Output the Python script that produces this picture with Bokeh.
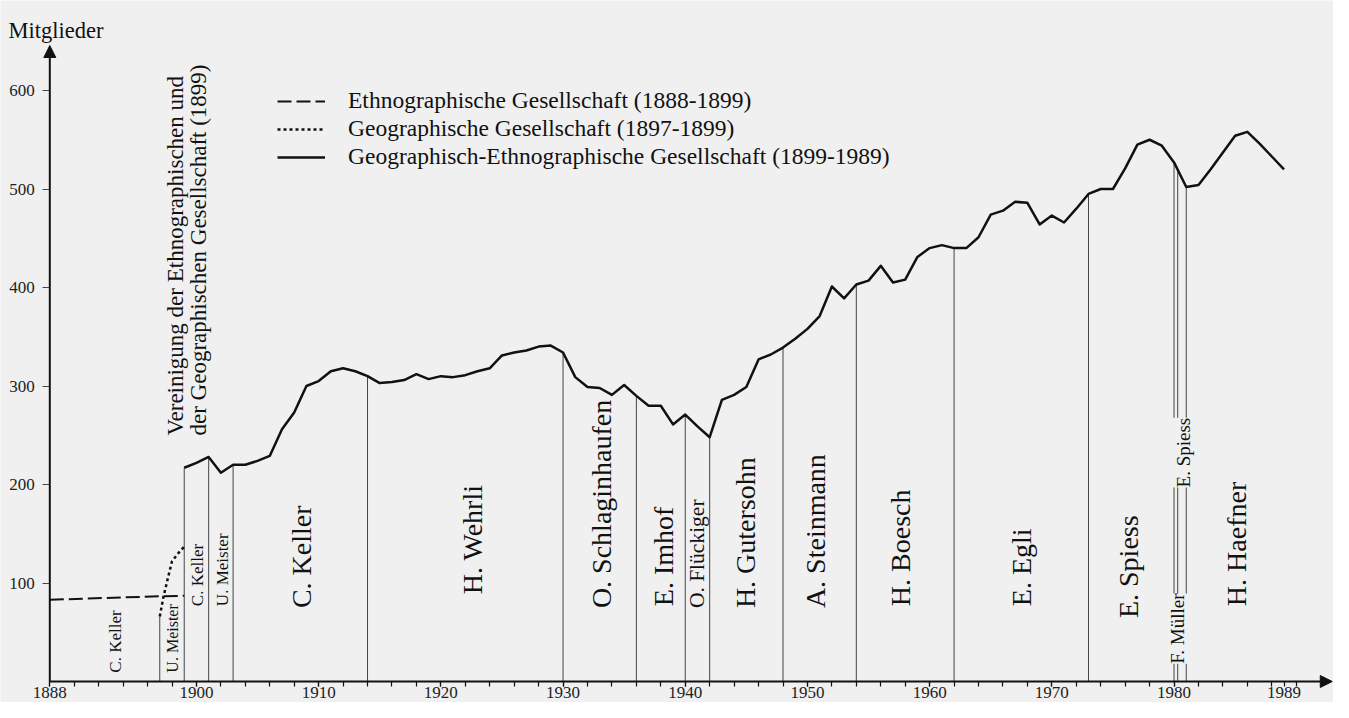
import numpy as np
from bokeh.plotting import figure
from bokeh.models import (Range1d, FixedTicker, Legend, LegendItem, Label,
                          Arrow, NormalHead)
from bokeh.embed import file_html
from bokeh.resources import INLINE

# ---------------- data ----------------
main_years = list(range(1899, 1990))
main_members = [
    217, 222, 228, 212, 220, 220, 224, 229, 256, 273,   # 1899-1908
    300, 305, 315, 318, 315, 310, 303, 304, 306, 312,   # 1909-1918
    307, 310, 309, 311, 315, 318, 331, 334, 336, 340,   # 1919-1928
    341, 334, 309, 299, 298, 291, 301, 290, 280, 280,   # 1929-1938
    261, 271, 259, 248, 286, 291, 299, 327, 332, 339,   # 1939-1948
    348, 358, 371, 401, 389, 403, 407, 422, 405, 408,   # 1949-1958
    431, 440, 443, 440, 440, 451, 474, 478, 487, 486,   # 1959-1968
    464, 473, 466, 480, 495, 500, 500, 521, 545, 550,   # 1969-1978
    544, 527, 502, 504, 520, 537, 554, 558, 546, 533,   # 1979-1988
    520,                                                # 1989
]
ethno_years = [1888, 1897, 1899]
ethno_members = [83, 86.5, 87]
geo_years = [1897.0, 1897.3, 1897.8, 1898.0, 1898.5, 1899.0]
geo_members = [66, 86, 112, 122, 130, 137]

term_boundaries = [1897, 1899, 1901, 1903, 1914, 1930, 1936, 1940, 1942,
                   1948, 1954, 1962, 1973, 1980, 1980.3, 1981]

presidents = ["C. Keller", "U. Meister", "C. Keller", "U. Meister",
              "C. Keller", "H. Wehrli", "O. Schlaginhaufen", "E. Imhof",
              "O. Flückiger", "H. Gutersohn", "A. Steinmann", "H. Boesch",
              "E. Egli", "E. Spiess", "F. Müller", "E. Spiess", "H. Haefner"]
# label anchors (centre year, start height in members units), font size
pres_x = [1893.4, 1898.0, 1900.1, 1902.1, 1908.6, 1922.6, 1933.15, 1938.2,
          1941.0, 1944.9, 1950.7, 1957.6, 1967.5, 1976.3, 1980.3, 1980.75, 1985.1]
pres_y = [9, 9, 76.5, 76.5, 74.5, 88.6, 74.5, 76.5,
          74.5, 74.5, 74.5, 76.5, 76.5, 64.4, 18, 197, 76.5]
pres_size = ["17px", "16px", "17px", "17px", "28px", "28px", "28px", "28px",
             "21.5px", "28px", "28px", "28px", "28px", "28px", "19px", "19px", "28px"]

y_ticks = [100, 200, 300, 400, 500, 600]
x_major_ticks = [1888, 1900, 1910, 1920, 1930, 1940, 1950, 1960, 1970, 1980, 1989]
x_minor_ticks = list(range(1888, 1991, 2))

legend_labels = ["Ethnographische Gesellschaft (1888-1899)",
                 "Geographische Gesellschaft (1897-1899)",
                 "Geographisch-Ethnographische Gesellschaft (1899-1989)"]
union_text = ["Vereinigung der Ethnographischen und",
              "der Geographischen Gesellschaft (1899)"]
union_x = [1898.3, 1900.2]
union_y = 249.7
caption_y = 660.9
axis_top = 645.7

# ---------------- style ----------------
FONT = "Liberation Serif"
BG = "#f0f0f0"
INK = "#111111"

W, H = 1333, 702
PX_PER_YEAR = 12.22
PX_PER_MEMBER = 0.985
X0 = 1888 - 49.3 / PX_PER_YEAR
X1 = X0 + W / PX_PER_YEAR
Y0 = -21.0 / PX_PER_MEMBER
Y1 = Y0 + H / PX_PER_MEMBER

p = figure(width=W, height=H,
           x_range=Range1d(X0, X1), y_range=Range1d(Y0, Y1),
           output_backend="svg", toolbar_location=None,
           min_border_left=0, min_border_right=0,
           min_border_top=0, min_border_bottom=0,
           background_fill_color=BG, border_fill_color=BG,
           outline_line_color=None)
p.title.visible = False
p.grid.visible = False

# axes (drawn at the data origin)
p.xaxis.fixed_location = 0
p.yaxis.fixed_location = 1888

p.xaxis.ticker = FixedTicker(ticks=x_major_ticks, minor_ticks=x_minor_ticks)
p.xaxis.axis_line_color = None
p.xaxis.major_tick_in = 0
p.xaxis.major_tick_out = 5
p.xaxis.minor_tick_in = 0
p.xaxis.minor_tick_out = 5
p.xaxis.major_tick_line_color = INK
p.xaxis.minor_tick_line_color = INK
p.xaxis.major_tick_line_width = 1.2
p.xaxis.minor_tick_line_width = 1.2
p.xaxis.major_label_text_font = FONT
p.xaxis.major_label_text_font_size = "17px"
p.xaxis.major_label_text_color = "#222222"
p.xaxis.major_label_standoff = 0

p.yaxis.ticker = FixedTicker(ticks=y_ticks)
p.yaxis.axis_line_color = None
p.yaxis.major_tick_in = 0
p.yaxis.major_tick_out = 7
p.yaxis.minor_tick_line_color = None
p.yaxis.major_tick_line_color = "#444444"
p.yaxis.major_label_text_font = FONT
p.yaxis.major_label_text_font_size = "17px"
p.yaxis.major_label_text_color = "#222222"
p.yaxis.major_label_standoff = 8

# axis lines with arrow heads
p.add_layout(Arrow(end=NormalHead(size=12, fill_color=INK, line_color=INK),
                   x_start=1888, y_start=0, x_end=1888, y_end=axis_top,
                   line_color=INK, line_width=2))
p.add_layout(Arrow(end=NormalHead(size=12, fill_color=INK, line_color=INK),
                   x_start=1888, y_start=0, x_end=X1 - 0.1, y_end=0,
                   line_color=INK, line_width=2))

# vertical term boundaries (height = membership at that date)
heights = []
for b in term_boundaries:
    if b < main_years[0]:
        heights.append(geo_members[0])
    else:
        heights.append(float(np.interp(b, main_years, main_members)))
p.segment(x0=term_boundaries, y0=[0] * len(term_boundaries),
          x1=term_boundaries, y1=heights, line_color="#444444", line_width=1)

# series
r_ethno = p.line(ethno_years, ethno_members, line_color=INK, line_width=2,
                 line_dash="14 5")
r_geo = p.line(geo_years, geo_members, line_color=INK, line_width=2.5,
               line_dash="3 3")
r_main = p.line(main_years, main_members, line_color=INK, line_width=2.5,
                line_join="round")

legend = Legend(items=[LegendItem(label=legend_labels[0], renderers=[r_ethno]),
                       LegendItem(label=legend_labels[1], renderers=[r_geo]),
                       LegendItem(label=legend_labels[2], renderers=[r_main])],
                location=(277, 532), orientation="vertical",
                glyph_width=48, glyph_height=24, label_height=24,
                spacing=1, padding=0, margin=0, label_standoff=23,
                label_text_font=FONT, label_text_font_size="23.5px",
                label_text_color=INK,
                border_line_alpha=0, background_fill_alpha=0)
p.add_layout(legend, "center")

# president names (rotated)
for name, x, y, fs in zip(presidents, pres_x, pres_y, pres_size):
    kw = {}
    if name == "F. Müller" or (name == "E. Spiess" and fs == "19px"):
        kw = dict(background_fill_color=BG)
    p.add_layout(Label(x=x, y=y, text=name, angle=np.pi / 2,
                       text_align="left", text_baseline="middle",
                       text_font=FONT, text_font_size=fs,
                       text_color=INK, **kw))

for t, x in zip(union_text, union_x):
    p.add_layout(Label(x=x, y=union_y, text=t, angle=np.pi / 2,
                       text_align="left", text_baseline="middle",
                       text_font=FONT, text_font_size="23px",
                       text_color=INK))

# y axis caption
p.add_layout(Label(x=X0 + 8 / PX_PER_YEAR, y=caption_y, text="Mitglieder",
                   text_align="left", text_baseline="alphabetic",
                   text_font=FONT, text_font_size="22.5px", text_color=INK))

open("out.html", "w").write(file_html(p, INLINE))
